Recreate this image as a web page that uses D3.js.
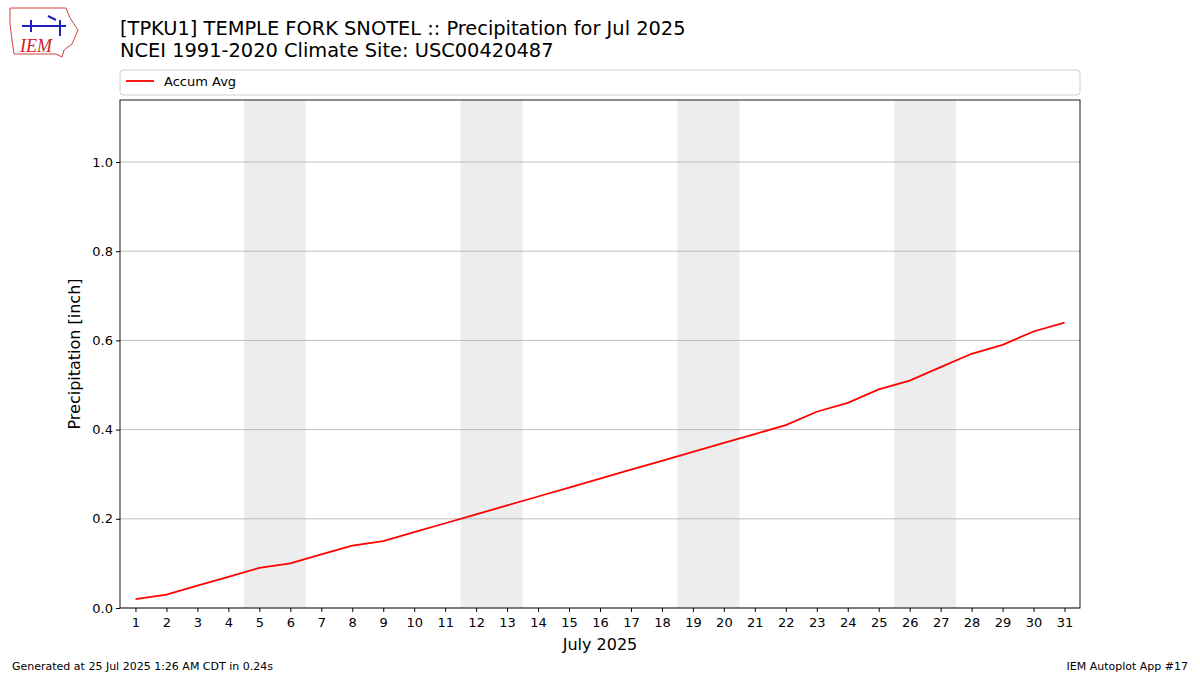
<!DOCTYPE html>
<html><head><meta charset="utf-8">
<script src="https://cdn.jsdelivr.net/npm/d3@7"></script>
<style>body{margin:0;background:#fff;font-family:"DejaVu Sans",sans-serif}</style>
</head><body><svg id="c" width="1200" height="675"></svg>
<script>
const days = d3.range(1, 32);
const accumAvg = [0.02,0.03,0.05,0.07,0.09,0.10,0.12,0.14,0.15,0.17,0.19,0.21,0.23,0.25,0.27,0.29,0.31,0.33,0.35,0.37,0.39,0.41,0.44,0.46,0.49,0.51,0.54,0.57,0.59,0.62,0.64];
const weekends = [[5,6],[12,13],[19,20],[26,27]];
const yTicks = [0,0.2,0.4,0.6,0.8,1.0];

const svg = d3.select("#c");
const L=120,R=1080,T=100,B=608;
const x = d3.scaleLinear().domain([0.5,31.5]).range([L,R]);
const y = d3.scaleLinear().domain([0,1.139]).range([B,T]);

svg.selectAll("rect.we").data(weekends).enter().append("rect")
 .attr("x",d=>x(d[0]-0.5)).attr("width",d=>x(d[1]+0.5)-x(d[0]-0.5))
 .attr("y",T).attr("height",B-T).attr("fill","#ededed");

svg.selectAll("line.g").data(yTicks).enter().append("line")
 .attr("x1",L).attr("x2",R).attr("y1",d=>y(d)).attr("y2",d=>y(d))
 .attr("stroke","#b0b0b0").attr("stroke-width",0.8);

svg.append("path").datum(accumAvg)
 .attr("d",d3.line().x((d,i)=>x(days[i])).y(d=>y(d)))
 .attr("fill","none").attr("stroke","red").attr("stroke-width",1.8);

svg.append("rect").attr("x",L).attr("y",T).attr("width",R-L).attr("height",B-T)
 .attr("fill","none").attr("stroke","#000").attr("stroke-width",0.9);

const xa = svg.append("g").attr("transform",`translate(0,${B})`)
 .call(d3.axisBottom(x).tickValues(days).tickFormat(d3.format("d")).tickSizeOuter(0).tickSize(4));
const ya = svg.append("g").attr("transform",`translate(${L},0)`)
 .call(d3.axisLeft(y).tickValues(yTicks).tickFormat(d3.format(".1f")).tickSizeOuter(0).tickSize(4));
[xa,ya].forEach(a=>{a.select(".domain").remove();a.selectAll("text").attr("font-size",13).attr("font-family","DejaVu Sans").attr("fill","#000");});
xa.selectAll("text").attr("dy","0.9em");

svg.append("text").attr("x",600).attr("y",650).attr("text-anchor","middle").attr("font-size",16).text("July 2025");
svg.append("text").attr("transform","translate(80,354) rotate(-90)").attr("text-anchor","middle").attr("font-size",16).text("Precipitation [inch]");

svg.append("text").attr("x",120).attr("y",35).attr("font-size",19.4).text("[TPKU1] TEMPLE FORK SNOTEL :: Precipitation for Jul 2025");
svg.append("text").attr("x",120).attr("y",57).attr("font-size",19.4).text("NCEI 1991-2020 Climate Site: USC00420487");

svg.append("rect").attr("x",120).attr("y",70).attr("width",960).attr("height",25).attr("rx",3)
 .attr("fill","#fff").attr("stroke","#d0d0d0");
svg.append("line").attr("x1",126).attr("x2",154).attr("y1",81).attr("y2",81).attr("stroke","red").attr("stroke-width",1.8);
svg.append("text").attr("x",164).attr("y",86).attr("font-size",13).text("Accum Avg");

svg.append("text").attr("x",12).attr("y",670).attr("font-size",11).text("Generated at 25 Jul 2025 1:26 AM CDT in 0.24s");
svg.append("text").attr("x",1188).attr("y",670).attr("text-anchor","end").attr("font-size",11).text("IEM Autoplot App #17");

// logo
const lg = svg.append("g");
lg.append("path").attr("d","M10,8 L66,8 L70,18 L78,30 L72,44 L64,50 L62,57 L56,54 L14,54 L12,40 L10,24 Z")
 .attr("fill","none").attr("stroke","#d04040").attr("stroke-width",1);
lg.append("text").attr("x",20).attr("y",52).attr("font-size",18).attr("font-style","italic")
 .attr("font-family","Liberation Serif").attr("fill","#d02020").text("IEM");
lg.append("path").attr("d","M22,26 L66,26 M31,20 L31,32 M60,20 L60,36 M48,16 L56,20").attr("stroke","#2020c0").attr("stroke-width",2).attr("fill","none");
</script></body></html>
